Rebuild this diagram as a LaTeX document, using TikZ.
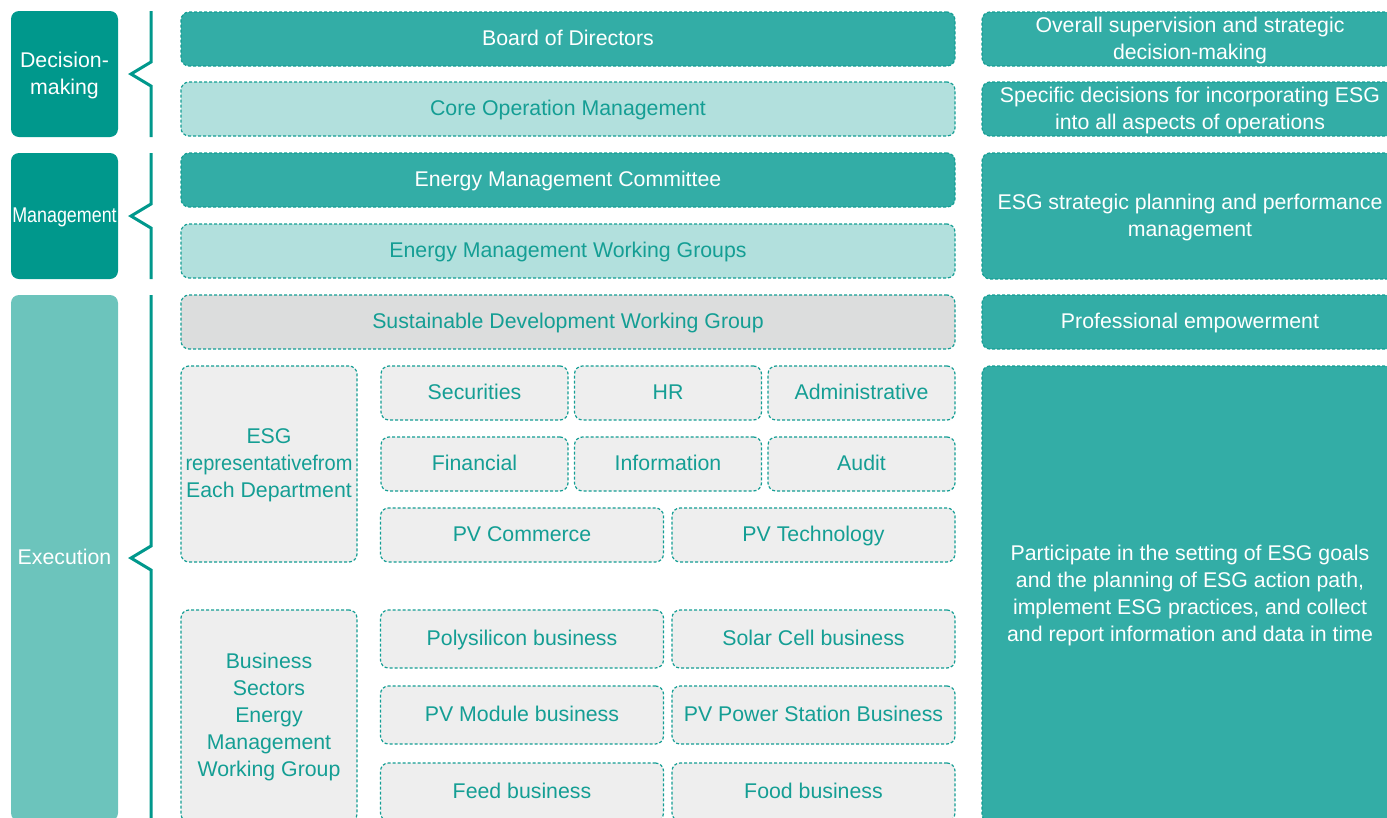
\documentclass[tikz,border=0pt]{standalone}
\usepackage{fontspec}
\setmainfont{Liberation Sans}
\usetikzlibrary{positioning}
\definecolor{deepteal}{RGB}{0,152,140}
\definecolor{paleexec}{RGB}{108,196,188}
\definecolor{midteal}{RGB}{51,173,166}
\definecolor{lightteal}{RGB}{178,224,221}
\definecolor{greyfill}{RGB}{220,221,221}
\definecolor{unitfill}{RGB}{238,238,238}
\definecolor{tealtext}{RGB}{20,158,148}

\begin{document}
\begin{tikzpicture}[x=1pt, y=-1pt,
  every node/.style={font=\fontsize{21.3}{27}\selectfont, align=center, inner sep=0pt, lines=1},
  lines/.code={\pgfmathsetmacro\lineh{(#1-1)*27+15.3}\tikzset{text height=\lineh pt, text depth=2pt}},
  stage/.style={rounded corners=8pt, fill=deepteal, text=white, minimum width=107pt},
  dashbox/.style={draw=tealtext, line width=1.2pt, dash pattern=on 3pt off 2pt, rounded corners=8pt},
  dutybox/.style={dashbox, fill=midteal, text=white},
  subbox/.style={dashbox, fill=lightteal, text=tealtext},
  groupbox/.style={dashbox, fill=greyfill, text=tealtext},
  unitbox/.style={dashbox, fill=unitfill, text=tealtext},
  wide/.style={minimum width=774pt, minimum height=54pt},
  side/.style={minimum width=416pt},
  bracket/.style={draw=deepteal, line width=3pt}]
  \clip (0,0) rectangle (1387,817);

  % stages on the left
  \node[stage, minimum height=126pt, lines=2] (decision) at (64.5,74) {Decision-\\making};
  \node[stage, minimum height=126pt] (manage) at (64.5,216) {\scalebox{0.84}[1]{Management}};
  \node[stage, fill=paleexec, minimum height=526pt] (execute) at (64.5,558) {Execution};
  \foreach \ya/\ym/\yb in {11/74/137, 153/216/279, 295/558/830}
    \draw[bracket] (151,\ya) -- (151,{\ym-12}) -- (131,\ym) -- (151,{\ym+12}) -- (151,\yb);

  % bodies
  \node[dutybox, wide] (board) at (568,39) {Board of Directors};
  \node[subbox, wide] (coreop) at (568,109) {Core Operation Management};
  \node[dutybox, wide] (committee) at (568,180) {Energy Management Committee};
  \node[subbox, wide] (workgroups) at (568,251) {Energy Management Working Groups};
  \node[groupbox, wide] (sustain) at (568,322) {Sustainable Development Working Group};

  % departments
  \node[unitbox, minimum width=176pt, minimum height=196pt, lines=3] (esgrep) at (269,464) {ESG\\\scalebox{0.94}[1]{representativefrom}\\Each Department};
  \foreach \name/\cx/\cy/\txt in {securities/474.5/393/Securities, hr/668/393/HR, admin/861.5/393/Administrative,
      financial/474.5/464/Financial, information/668/464/Information, audit/861.5/464/Audit}
    \node[unitbox, minimum width=187pt, minimum height=54pt] (\name) at (\cx,\cy) {\txt};
  \node[unitbox, minimum width=283pt, minimum height=54pt] (pvcom) at (522,535) {PV Commerce};
  \node[unitbox, minimum width=283pt, minimum height=54pt] (pvtech) at (813.5,535) {PV Technology};

  % business sectors
  \node[unitbox, minimum width=176pt, minimum height=212pt, lines=5] (sectors) at (269,716) {Business\\Sectors\\Energy\\Management\\Working Group};
  \foreach \name/\cx/\cy/\txt in {poly/522/639/Polysilicon business, cell/813.5/639/Solar Cell business,
      module/522/715/PV Module business, station/813.5/715/PV Power Station Business,
      feed/522/792/Feed business, food/813.5/792/Food business}
    \node[unitbox, minimum width=283pt, minimum height=58pt] (\name) at (\cx,\cy) {\txt};

  % duties on the right
  \node[dutybox, side, minimum height=54pt, lines=2] (oversee) at (1190,39) {Overall supervision and strategic\\decision-making};
  \node[dutybox, side, minimum height=54pt, lines=2] (specific) at (1190,109) {Specific decisions for incorporating ESG\\into all aspects of operations};
  \node[dutybox, side, minimum height=126pt, lines=2] (planning) at (1190,216) {ESG strategic planning and performance\\management};
  \node[dutybox, side, minimum height=54pt] (empower) at (1190,322) {Professional empowerment};
  \node[dutybox, side, minimum height=456pt, lines=4] (participate) at (1190,594) {Participate in the setting of ESG goals\\and the planning of ESG action path,\\implement ESG practices, and collect\\and report information and data in time};
\end{tikzpicture}
\end{document}
